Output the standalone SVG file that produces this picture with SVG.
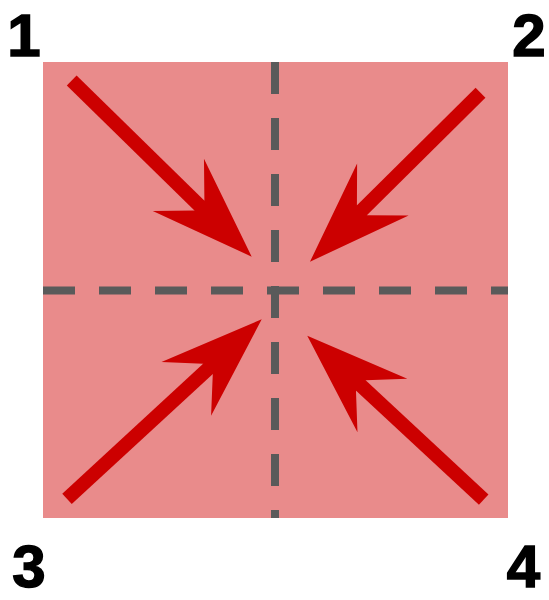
<svg xmlns="http://www.w3.org/2000/svg" width="549" height="600" viewBox="0 0 549 600">
  <style>
    .num { font-family: "Liberation Sans", Arial, sans-serif; font-weight: bold; font-size: 60px; fill: #000; stroke: #000; stroke-width: 1.5; text-anchor: middle; }
    .dash { stroke: #5a5a5a; stroke-width: 8; stroke-dasharray: 32 24; fill: none; }
    .arrow { stroke: #cc0000; stroke-width: 14; fill: none; marker-end: url(#head); }
  </style>
  <defs>
    <marker id="head" markerUnits="userSpaceOnUse" orient="auto" refX="0" refY="0" markerWidth="200" markerHeight="200" viewBox="-100 -100 200 200" overflow="visible">
      <path d="M60,0 L-42.6,-36.6 L-13,-7 L-13,7 L-42.6,36.6 Z" fill="#cc0000"/>
    </marker>
  </defs>
  <rect id="square" x="43" y="62" width="465" height="456" fill="#e98b8b"/>
  <g id="axes">
    <line class="dash" x1="43" y1="290.5" x2="508" y2="290.5"/>
    <line class="dash" x1="275" y1="62" x2="275" y2="518"/>
  </g>
  <g id="connectors">
    <line class="arrow" x1="71.7" y1="80.5" x2="208.8" y2="214.7"/>
    <line class="arrow" x1="480.5" y1="92.8" x2="352.6" y2="219.5"/>
    <line class="arrow" x1="67" y1="498.8" x2="217.6" y2="360"/>
    <line class="arrow" x1="483.7" y1="499.7" x2="351.2" y2="376.5"/>
  </g>
  <g id="label1"><text class="num" x="24" y="56">1</text></g>
  <g id="label2"><text class="num" x="529" y="56">2</text></g>
  <g id="label3"><text class="num" x="29" y="587">3</text></g>
  <g id="label4"><text class="num" x="523.5" y="587">4</text></g>
</svg>
